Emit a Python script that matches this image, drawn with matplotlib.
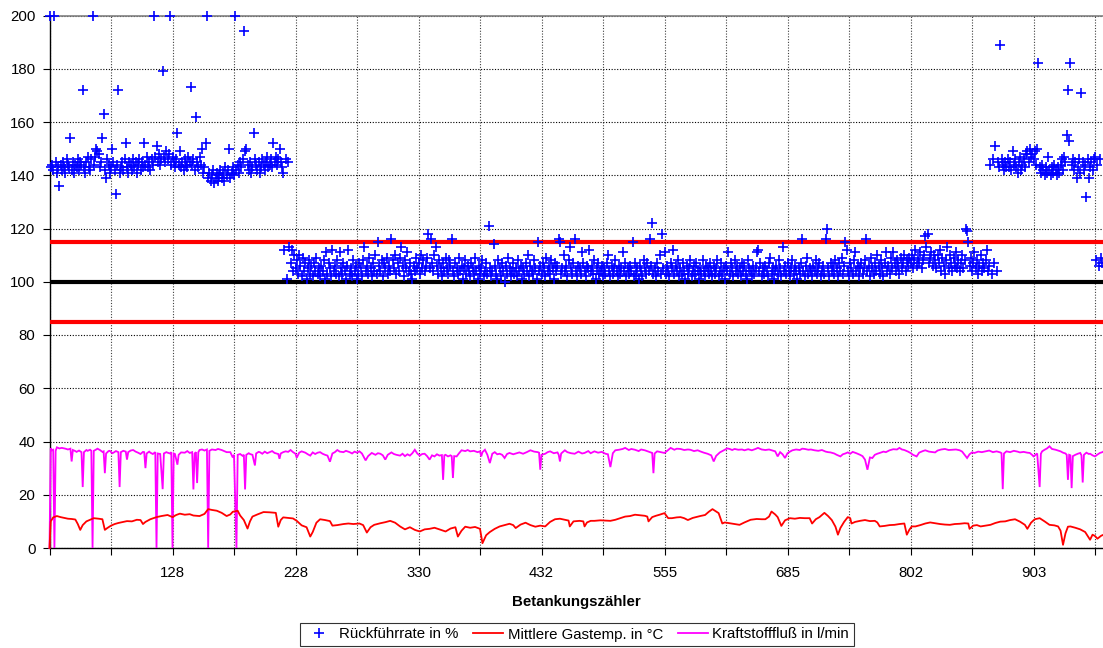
import matplotlib
matplotlib.use('Agg')
import matplotlib.pyplot as plt
from matplotlib.lines import Line2D

plt.rcParams['font.family'] = ['Liberation Sans', 'DejaVu Sans']

# Rückführrate in % (one value per refuelling, category order)
rueckfuehrrate = [
    200, 143, 144, 142, 200, 145, 141, 143, 136, 144, 142, 145, 143, 141, 146, 144, 143, 154, 142, 145,
    141, 144, 143, 146, 142, 145, 144, 172, 143, 141, 145, 147, 143, 142, 146, 200, 144, 147, 150, 149,
    148, 143, 145, 154, 163, 142, 139, 146, 144, 141, 143, 150, 145, 142, 133, 144, 172, 141, 143, 145,
    142, 146, 152, 143, 141, 145, 144, 142, 146, 143, 145, 141, 144, 146, 142, 145, 143, 152, 144, 147,
    143, 145, 142, 146, 144, 200, 147, 151, 145, 148, 144, 146, 179, 147, 145, 149, 146, 148, 200, 144,
    147, 145, 143, 146, 156, 144, 149, 143, 145, 142, 146, 144, 143, 147, 145, 173, 144, 146, 142, 162,
    145, 143, 147, 144, 150, 141, 143, 152, 200, 139, 141, 138, 140, 142, 137, 139, 141, 138, 140, 142,
    139, 141, 138, 143, 140, 142, 150, 139, 141, 143, 140, 200, 142, 144, 141, 145, 143, 146, 194, 149,
    150, 144, 142, 145, 141, 143, 156, 146, 144, 142, 145, 141, 143, 146, 144, 142, 145, 147, 143, 144,
    146, 143, 152, 145, 147, 144, 146, 150, 145, 143, 141, 112, 146, 101, 145, 113, 107, 112, 104, 110,
    105, 108, 103, 110, 106, 102, 109, 104, 107, 101, 105, 108, 103, 106, 102, 107, 104, 109, 103, 105,
    102, 106, 104, 108, 101, 111, 103, 107, 105, 102, 112, 104, 106, 103, 108, 102, 111, 105, 103, 107,
    104, 101, 106, 112, 103, 105, 102, 108, 104, 106, 101, 103, 107, 105, 102, 108, 113, 104, 106, 103,
    109, 105, 102, 107, 104, 110, 103, 115, 106, 104, 108, 102, 107, 105, 109, 103, 106, 104, 116, 108,
    105, 110, 103, 107, 104, 109, 113, 106, 102, 108, 105, 111, 104, 107, 103, 101, 106, 104, 109, 105,
    107, 103, 110, 105, 108, 104, 106, 109, 118, 105, 116, 107, 104, 110, 113, 106, 103, 108, 105, 102,
    107, 104, 109, 105, 103, 108, 106, 116, 104, 102, 107, 105, 103, 109, 104, 106, 101, 105, 108, 103,
    106, 104, 102, 107, 105, 103, 109, 104, 101, 106, 103, 105, 108, 102, 104, 107, 103, 121, 105, 102,
    104, 114, 106, 103, 101, 108, 105, 102, 107, 104, 100, 106, 103, 109, 105, 102, 104, 107, 103, 105,
    102, 108, 104, 106, 101, 105, 103, 107, 104, 110, 102, 106, 104, 103, 108, 105, 101, 115, 104, 106,
    103, 107, 105, 102, 109, 104, 106, 103, 108, 105, 101, 107, 104, 106, 116, 115, 103, 105, 110, 104,
    106, 102, 108, 113, 105, 103, 107, 116, 104, 102, 106, 105, 103, 111, 107, 104, 102, 106, 105, 112,
    104, 106, 103, 108, 101, 105, 107, 103, 104, 106, 102, 105, 103, 107, 110, 104, 102, 106, 103, 105,
    108, 104, 102, 106, 103, 105, 111, 104, 107, 102, 105, 103, 106, 104, 115, 102, 107, 103, 105, 101,
    106, 104, 102, 108, 105, 103, 107, 104, 116, 106, 122, 103, 105, 102, 107, 104, 110, 103, 118, 105,
    111, 103, 106, 104, 102, 107, 105, 112, 103, 106, 104, 108, 102, 105, 103, 107, 104, 101, 106, 103,
    105, 108, 102, 104, 106, 103, 107, 104, 101, 105, 103, 108, 104, 102, 106, 105, 103, 107, 104, 102,
    106, 103, 105, 108, 102, 104, 107, 103, 105, 101, 106, 104, 111, 103, 107, 105, 102, 108, 104, 106,
    103, 105, 102, 107, 104, 106, 103, 101, 108, 105, 104, 102, 106, 103, 105, 111, 112, 104, 107, 102,
    105, 103, 106, 104, 102, 107, 109, 103, 105, 101, 104, 106, 103, 108, 105, 102, 113, 104, 106, 103,
    107, 104, 102, 105, 108, 103, 106, 104, 101, 105, 103, 107, 116, 104, 102, 106, 109, 103, 105, 104,
    102, 106, 104, 108, 103, 105, 107, 102, 104, 106, 103, 116, 120, 105, 102, 107, 104, 106, 103, 108,
    105, 102, 107, 104, 109, 103, 106, 115, 112, 104, 102, 107, 105, 103, 108, 111, 104, 106, 102, 105,
    107, 103, 105, 108, 116, 104, 106, 102, 109, 105, 103, 107, 104, 110, 106, 103, 108, 105, 102, 107,
    111, 104, 106, 103, 109, 105, 111, 107, 104, 108, 106, 103, 109, 105, 107, 110, 104, 108, 106, 109,
    107, 110, 105, 108, 112, 106, 109, 107, 111, 105, 108, 110, 117, 113, 118, 107, 109, 111, 106, 110,
    108, 105, 110, 107, 112, 104, 109, 106, 103, 108, 113, 105, 110, 107, 104, 109, 106, 111, 105, 108,
    104, 107, 110, 105, 108, 120, 119, 115, 106, 109, 104, 107, 111, 105, 108, 103, 106, 110, 104, 107,
    105, 108, 112, 104, 106, 144, 103, 146, 107, 151, 104, 145, 143, 189, 146, 144, 142, 145, 143, 146,
    143, 145, 142, 149, 144, 146, 143, 141, 145, 147, 142, 144, 146, 143, 148, 149, 145, 150, 147, 148,
    146, 149, 144, 150, 182, 143, 141, 144, 142, 140, 143, 141, 147, 142, 140, 143, 141, 144, 142, 140,
    143, 141, 144, 146, 142, 147, 145, 155, 172, 153, 182, 144, 146, 142, 145, 139, 143, 146, 141, 171,
    145, 142, 144, 132, 146, 139, 143, 145, 142, 146, 147, 108, 144, 106, 146, 109, 107, 106,
]

# Mittlere Gastemp. in °C  (category index, value)
gastemp = [
    (0, 0.0), (1, 10.0), (3, 11.5), (6, 12.0), (9, 11.6), (12, 11.3), (15, 11.0), (18, 10.9), (21, 10.7),
    (23, 9.0), (25, 6.8), (27, 8.6), (30, 10.0), (33, 10.6), (36, 11.2), (40, 11.0), (43, 10.8), (45, 6.8),
    (47, 7.5), (50, 8.4), (53, 9.0), (56, 9.4), (60, 9.8), (63, 10.1), (67, 10.0), (71, 10.6), (74, 10.5),
    (76, 9.0), (78, 9.8), (82, 10.8), (87, 11.6), (91, 12.0), (96, 12.4), (100, 11.6), (103, 12.4),
    (106, 12.9), (110, 12.5), (114, 12.7), (117, 12.2), (122, 12.0), (126, 12.8), (129, 14.6), (132, 14.3),
    (136, 14.0), (140, 13.2), (144, 12.0), (147, 12.6), (149, 13.6), (153, 14.0), (155, 12.2), (158, 10.5),
    (161, 7.3), (163, 10.0), (165, 11.8), (169, 12.6), (174, 13.5), (179, 13.4), (184, 13.2), (186, 8.0),
    (188, 10.5), (190, 11.5), (194, 11.3), (198, 11.1), (201, 10.2), (205, 8.5), (209, 7.8), (212, 4.3),
    (214, 6.0), (217, 9.5), (220, 10.8), (224, 10.5), (228, 10.1), (230, 8.4), (234, 8.6), (239, 9.0),
    (243, 9.2), (247, 9.0), (252, 9.2), (255, 8.6), (258, 5.8), (261, 7.8), (264, 8.7), (269, 9.3),
    (273, 9.7), (277, 10.2), (281, 9.5), (285, 8.1), (289, 7.0), (293, 7.8), (297, 6.8), (301, 6.2),
    (305, 7.0), (309, 7.2), (313, 7.6), (317, 7.0), (322, 6.2), (326, 7.3), (330, 7.8), (332, 4.3),
    (335, 6.5), (338, 8.0), (342, 7.6), (346, 7.9), (350, 7.2), (352, 1.8), (355, 4.8), (358, 6.0),
    (362, 7.2), (366, 8.1), (370, 8.6), (374, 9.1), (377, 8.6), (379, 7.5), (383, 8.8), (387, 9.5),
    (391, 8.6), (395, 8.0), (399, 8.4), (403, 8.1), (407, 9.8), (411, 10.8), (415, 11.0), (419, 10.6),
    (422, 10.3), (423, 8.1), (426, 10.0), (431, 10.2), (434, 10.0), (435, 8.1), (437, 9.6), (440, 10.2),
    (443, 10.2), (448, 10.4), (452, 10.3), (456, 10.2), (460, 10.6), (464, 11.2), (468, 11.8), (472, 12.0),
    (476, 12.5), (480, 12.3), (484, 12.1), (486, 11.8), (487, 10.0), (490, 11.6), (493, 12.1), (496, 12.5),
    (500, 13.1), (503, 11.2), (506, 11.2), (510, 11.5), (513, 11.6), (516, 11.2), (519, 10.5), (523, 11.3),
    (529, 12.0), (533, 12.4), (536, 13.6), (539, 14.6), (541, 14.0), (544, 13.1), (547, 9.2), (549, 9.6),
    (553, 9.3), (557, 9.0), (561, 8.7), (565, 9.6), (570, 10.6), (575, 10.9), (579, 10.8), (582, 10.8),
    (585, 11.8), (587, 13.7), (590, 12.6), (592, 11.6), (595, 8.3), (598, 10.4), (602, 11.2), (606, 11.0),
    (610, 11.3), (614, 11.2), (618, 11.2), (620, 9.2), (623, 10.8), (626, 11.6), (630, 13.2), (633, 12.0),
    (636, 10.5), (639, 8.0), (641, 5.0), (643, 7.5), (646, 9.8), (649, 11.6), (651, 11.2), (652, 9.2),
    (655, 9.8), (659, 10.2), (663, 10.5), (667, 10.1), (671, 10.2), (673, 9.6), (675, 8.1), (679, 8.3),
    (683, 8.6), (687, 8.7), (691, 9.0), (695, 9.2), (697, 5.0), (699, 6.8), (701, 8.1), (704, 8.1),
    (708, 8.6), (712, 9.2), (716, 9.6), (720, 9.3), (724, 9.0), (728, 8.8), (732, 8.7), (736, 9.0),
    (740, 9.1), (744, 9.3), (747, 9.2), (748, 7.2), (751, 8.4), (754, 8.6), (757, 8.1), (761, 8.4),
    (765, 8.7), (769, 9.4), (773, 9.9), (777, 10.0), (781, 10.5), (785, 10.8), (789, 9.9), (793, 8.7),
    (795, 7.2), (798, 9.5), (801, 10.8), (805, 11.2), (809, 10.0), (813, 8.7), (817, 8.5), (820, 8.1),
    (822, 6.5), (824, 1.2), (826, 5.5), (828, 8.0), (830, 8.1), (834, 7.6), (838, 7.0), (842, 6.0),
    (846, 3.1), (848, 5.0), (850, 4.5), (852, 3.5), (855, 4.6), (857, 5.0),
]

# Kraftstofffluß in l/min  (category index, value)
kraftstofffluss = [
    (0, 0.0), (1, 37.5), (2, 36.7), (3, 36.9), (4, 0.0), (5, 36.5), (6, 37.8), (8, 37.4), (10, 37.6),
    (13, 37.3), (15, 37.0), (17, 37.3), (18, 32.5), (19, 36.8), (21, 36.4), (22, 36.1), (24, 36.6),
    (26, 36.0), (27, 22.9), (28, 36.0), (30, 36.8), (31, 36.5), (33, 36.9), (34, 36.5), (35, 0.0),
    (36, 36.5), (38, 37.0), (39, 37.3), (41, 36.8), (43, 36.1), (44, 36.3), (45, 28.1), (46, 35.5),
    (48, 36.4), (49, 36.5), (51, 35.6), (52, 35.8), (54, 36.4), (56, 36.0), (57, 22.9), (58, 36.0),
    (60, 36.5), (62, 36.2), (63, 33.2), (64, 36.0), (66, 36.6), (68, 36.8), (70, 36.2), (72, 35.8),
    (74, 35.3), (76, 36.1), (77, 36.0), (78, 30.0), (79, 35.5), (81, 36.2), (82, 35.8), (84, 35.3),
    (86, 36.0), (87, 0.0), (88, 35.5), (90, 35.3), (92, 22.1), (93, 35.5), (95, 36.0), (96, 35.8),
    (98, 35.5), (99, 36.0), (100, 0.0), (101, 35.5), (102, 35.3), (104, 31.3), (105, 35.0), (107, 35.9),
    (110, 35.8), (112, 36.4), (114, 35.7), (116, 36.0), (117, 22.0), (118, 35.5), (119, 36.0), (120, 24.4),
    (121, 36.0), (122, 36.8), (124, 37.0), (126, 36.6), (128, 37.0), (129, 0.0), (130, 36.5), (132, 37.0),
    (135, 36.8), (137, 37.2), (140, 36.8), (142, 36.4), (144, 36.0), (147, 36.0), (149, 34.0), (150, 35.0),
    (152, 0.0), (153, 35.0), (155, 35.3), (157, 34.6), (158, 35.0), (159, 22.0), (160, 35.0), (162, 35.6),
    (163, 35.3), (165, 35.0), (167, 31.0), (168, 35.5), (170, 36.1), (171, 36.0), (173, 35.4), (175, 36.2),
    (177, 35.6), (179, 36.0), (181, 36.4), (183, 35.7), (186, 35.3), (187, 33.5), (188, 35.5), (190, 36.0),
    (192, 36.3), (194, 36.1), (196, 36.8), (198, 36.0), (200, 35.4), (201, 33.9), (203, 35.8), (205, 36.3),
    (208, 35.8), (210, 35.2), (212, 34.7), (214, 35.9), (216, 35.3), (218, 35.8), (220, 36.0), (222, 35.4),
    (224, 35.0), (226, 34.7), (228, 32.4), (230, 35.5), (232, 36.0), (234, 36.8), (236, 36.2), (239, 36.0),
    (241, 36.5), (244, 36.0), (246, 35.5), (248, 36.2), (250, 35.8), (252, 36.3), (254, 35.5), (257, 32.9),
    (259, 34.5), (262, 35.7), (265, 35.0), (267, 35.6), (269, 35.4), (271, 34.8), (273, 33.2), (275, 35.0),
    (278, 35.9), (280, 35.3), (282, 35.0), (285, 34.7), (287, 35.4), (289, 34.5), (291, 35.2), (293, 34.7),
    (295, 35.6), (297, 36.9), (299, 35.5), (301, 34.7), (303, 35.3), (305, 35.4), (307, 34.5), (309, 33.2),
    (311, 34.8), (313, 34.4), (315, 35.2), (317, 34.7), (319, 34.9), (320, 25.6), (321, 34.8), (322, 35.0),
    (324, 34.4), (326, 34.8), (327, 34.5), (328, 26.3), (329, 34.5), (331, 34.4), (333, 35.6), (335, 36.7),
    (338, 36.4), (340, 36.8), (342, 36.3), (345, 36.5), (348, 36.0), (350, 36.3), (351, 34.4), (352, 36.0),
    (354, 36.9), (356, 35.0), (358, 31.9), (360, 35.4), (362, 36.0), (364, 35.2), (366, 35.4), (368, 35.0),
    (370, 33.8), (372, 35.3), (374, 35.7), (377, 35.2), (380, 35.6), (382, 35.9), (385, 35.4), (388, 36.0),
    (391, 36.7), (394, 36.2), (397, 36.0), (398, 35.8), (399, 29.4), (400, 35.0), (403, 35.4), (405, 36.0),
    (407, 36.3), (410, 35.6), (413, 35.9), (414, 35.0), (415, 32.5), (416, 35.5), (419, 36.7), (421, 36.0),
    (424, 35.6), (427, 35.4), (430, 36.2), (433, 35.5), (435, 35.7), (438, 36.4), (440, 35.6), (443, 36.3),
    (446, 35.8), (449, 36.1), (452, 35.4), (454, 35.2), (456, 30.4), (458, 35.6), (460, 36.7), (463, 36.9),
    (466, 37.2), (468, 37.6), (471, 36.8), (473, 37.2), (476, 36.9), (479, 36.4), (481, 37.0), (484, 36.7),
    (487, 36.2), (490, 35.7), (491, 28.1), (492, 35.5), (494, 36.3), (497, 36.0), (500, 35.7), (503, 36.8),
    (505, 37.6), (508, 36.9), (510, 37.3), (513, 37.2), (516, 36.8), (519, 37.0), (521, 36.9), (524, 36.4),
    (527, 36.7), (529, 36.3), (532, 35.8), (535, 35.4), (538, 34.8), (540, 32.5), (542, 34.6), (545, 35.9),
    (547, 36.4), (549, 36.9), (551, 37.4), (553, 37.2), (555, 36.8), (557, 37.2), (560, 36.9), (563, 37.0),
    (565, 36.7), (568, 37.1), (571, 36.7), (574, 37.2), (576, 37.6), (579, 37.0), (582, 36.8), (585, 37.0),
    (588, 36.6), (590, 36.3), (592, 34.4), (594, 36.0), (596, 35.2), (598, 33.8), (600, 35.6), (602, 36.2),
    (604, 36.7), (607, 37.0), (610, 36.8), (612, 37.3), (614, 37.2), (617, 36.9), (619, 37.0), (622, 36.7),
    (625, 36.5), (628, 36.8), (631, 36.2), (633, 36.0), (635, 35.9), (638, 35.5), (640, 35.0), (643, 34.4),
    (645, 35.2), (647, 35.5), (649, 35.9), (651, 35.4), (653, 36.1), (656, 35.6), (659, 35.0), (661, 34.5),
    (663, 33.2), (665, 29.4), (667, 34.0), (669, 33.8), (671, 35.0), (673, 35.4), (675, 35.7), (678, 36.2),
    (680, 36.0), (683, 36.7), (686, 37.1), (689, 37.0), (691, 37.6), (693, 37.0), (695, 36.8), (698, 36.2),
    (700, 35.7), (702, 35.0), (704, 34.6), (705, 34.4), (707, 35.8), (710, 36.4), (712, 36.7), (715, 36.2),
    (718, 36.0), (720, 35.9), (722, 36.6), (725, 37.0), (728, 37.2), (731, 36.8), (734, 36.9), (737, 37.0),
    (740, 36.7), (742, 36.2), (744, 35.0), (746, 33.8), (748, 35.2), (750, 35.9), (752, 35.7), (755, 36.2),
    (758, 36.0), (761, 36.3), (764, 36.6), (767, 36.0), (770, 36.3), (773, 35.9), (774, 35.6), (775, 22.1),
    (776, 35.5), (778, 36.3), (781, 36.0), (784, 36.5), (787, 36.2), (789, 35.9), (792, 36.1), (795, 35.8),
    (797, 35.7), (799, 34.9), (800, 34.4), (803, 35.5), (805, 22.9), (806, 35.4), (807, 36.3), (809, 36.9),
    (811, 37.4), (813, 38.2), (815, 37.2), (818, 36.9), (820, 36.6), (822, 36.3), (824, 35.8), (826, 35.5),
    (827, 35.0), (828, 25.6), (829, 35.0), (830, 34.8), (831, 22.5), (832, 34.5), (834, 35.0), (836, 35.4),
    (838, 35.7), (839, 34.8), (840, 24.6), (841, 35.0), (843, 35.8), (845, 35.3), (846, 35.4), (848, 34.8),
    (850, 34.4), (852, 35.1), (854, 35.7), (856, 36.0), (857, 36.3),
]

# reference lines (%)
grenze_oben = 115
sollwert = 100
grenze_unten = 85

# x tick labels (Betankungszähler), one label every 100 refuellings
x_tick_labels = ['128', '228', '330', '432', '555', '685', '802', '903']
label_step = 100

series_names = ['Rückführrate in %', 'Mittlere Gastemp. in °C', 'Kraftstofffluß in l/min']

# ------------------------------------------------------------------
W, H = 1103, 648
FS = 10.8
fig = plt.figure(figsize=(W / 100, H / 100), dpi=100)
fig.patch.set_facecolor('white')
left_px, right_px, top_px, bottom_px = 49.5, 1104.0, 15.5, 548.0
ax = fig.add_axes([left_px / W, 1 - bottom_px / H, (right_px - left_px) / W, (bottom_px - top_px) / H])

n = len(rueckfuehrrate)
blue, red, magenta = '#0000FF', '#FF0000', '#FF00FF'

# horizontal reference lines
ax.axhline(grenze_oben, color=red, lw=3.0, zorder=3)
ax.axhline(grenze_unten, color=red, lw=3.0, zorder=3)
ax.axhline(sollwert, color='black', lw=3.0, zorder=3)

# lines
tx, ty = zip(*gastemp)
fx, fy = zip(*kraftstofffluss)
ax.plot(fx, fy, color=magenta, lw=1.3, zorder=4, clip_on=False, solid_joinstyle='miter')
ax.plot(tx, ty, color=red, lw=1.3, zorder=4, clip_on=False)

# scatter
ax.plot(range(n), rueckfuehrrate, ls='none', marker='+', ms=7.5, mew=1.2,
        color=blue, zorder=5, clip_on=False)

xmax = (right_px - left_px) / 1.23
ax.set_xlim(0, xmax)
ax.set_ylim(0, 200)

# ticks
minor_pos = list(range(0, int(xmax) + 1, label_step // 2))
ax.set_xticks(minor_pos)
labels = []
for p in minor_pos:
    k = p // label_step - 1
    if p % label_step == 0 and 0 <= k < len(x_tick_labels):
        labels.append(x_tick_labels[k])
    else:
        labels.append('')
ax.set_xticklabels(labels)
ax.set_yticks(range(0, 201, 20))
ax.tick_params(axis='x', direction='out', length=5, width=0.8, pad=8, labelsize=FS)
ax.tick_params(axis='y', direction='out', length=5, width=0.8, pad=5, labelsize=FS)

ax.xaxis.grid(True, color='#404040', ls=(0, (1, 1.5)), lw=0.8)
ax.yaxis.grid(True, color='black', ls=(0, (1, 1.5)), lw=0.8)
ax.set_axisbelow(True)

for s in ['left', 'bottom']:
    ax.spines[s].set_color('black')
    ax.spines[s].set_linewidth(1.0)
ax.spines['top'].set_color('#808080')
ax.spines['top'].set_linewidth(1.2)
ax.spines['right'].set_visible(False)

ax.set_xlabel('Betankungszähler', fontsize=FS, fontweight='bold', labelpad=11)

handles = [
    Line2D([], [], ls='none', marker='+', ms=7.5, mew=1.2, color=blue),
    Line2D([], [], color=red, lw=1.3),
    Line2D([], [], color=magenta, lw=1.3),
]
leg = fig.legend(handles, series_names, loc='upper center', ncol=3,
                 bbox_to_anchor=((left_px + right_px) / 2 / W, 1 - 623 / H),
                 fontsize=FS, frameon=True, fancybox=False, edgecolor='black',
                 handlelength=2.0, handletextpad=0.3, columnspacing=1.0,
                 borderpad=0.3, borderaxespad=0)
leg.get_frame().set_linewidth(0.8)

fig.savefig('out.png', dpi=100, facecolor='white')
